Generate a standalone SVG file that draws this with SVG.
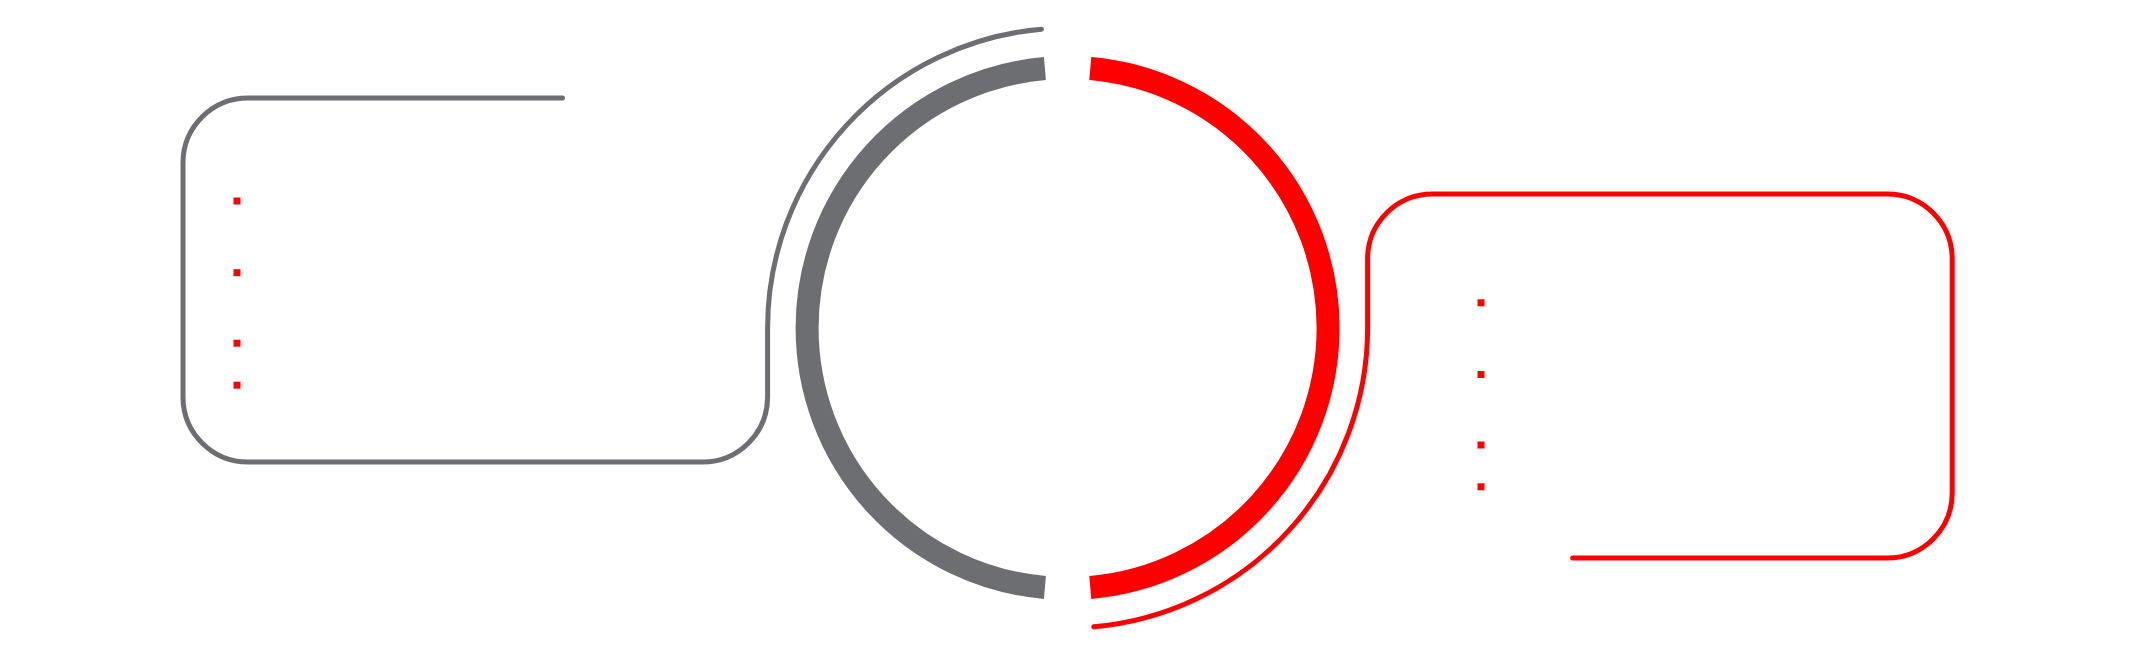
<svg xmlns="http://www.w3.org/2000/svg" width="2138" height="652" viewBox="0 0 2138 652">
  <style>
    .thin { fill: none; stroke-width: 5; stroke-linecap: round; stroke-linejoin: round; }
    .thick { fill: none; stroke-width: 23; stroke-linecap: butt; }
    .gray { stroke: #6d6e71; }
    .red { stroke: #ff0000; }
    .bullet { fill: #ff0000; }
  </style>
  <rect x="0" y="0" width="2138" height="652" fill="#ffffff"/>
  <g id="node-left">
    <path class="thin gray" d="M 1041.45 29.14 A 300 300 0 0 0 767.6 328 L 767.6 397 A 65 65 0 0 1 702.6 462 L 248 462 A 65 65 0 0 1 183 397 L 183 163 A 65 65 0 0 1 248 98 L 562.5 98"/>
    <rect class="bullet" x="233.5" y="197.5" width="7" height="7"/>
    <rect class="bullet" x="233.5" y="269.2" width="7" height="7"/>
    <rect class="bullet" x="233.5" y="339.7" width="7" height="7"/>
    <rect class="bullet" x="233.5" y="381.7" width="7" height="7"/>
  </g>
  <g id="node-ring-left">
    <path class="thick gray" d="M 1044.9 68.49 A 260.5 260.5 0 0 0 1044.9 587.51"/>
  </g>
  <g id="node-ring-right">
    <path class="thick red" d="M 1090.3 68.49 A 260.5 260.5 0 0 1 1090.3 587.51"/>
  </g>
  <g id="node-right">
    <path class="thin red" d="M 1093.75 626.86 A 300 300 0 0 0 1367.6 328 L 1367.6 259 A 65 65 0 0 1 1432.6 194 L 1887.2 194 A 65 65 0 0 1 1952.2 259 L 1952.2 493 A 65 65 0 0 1 1887.2 558 L 1572.7 558"/>
    <rect class="bullet" x="1477.5" y="299.3" width="7" height="7"/>
    <rect class="bullet" x="1477.5" y="371" width="7" height="7"/>
    <rect class="bullet" x="1477.5" y="441.5" width="7" height="7"/>
    <rect class="bullet" x="1477.5" y="483.3" width="7" height="7"/>
  </g>
  <g id="connectors"></g>
</svg>
